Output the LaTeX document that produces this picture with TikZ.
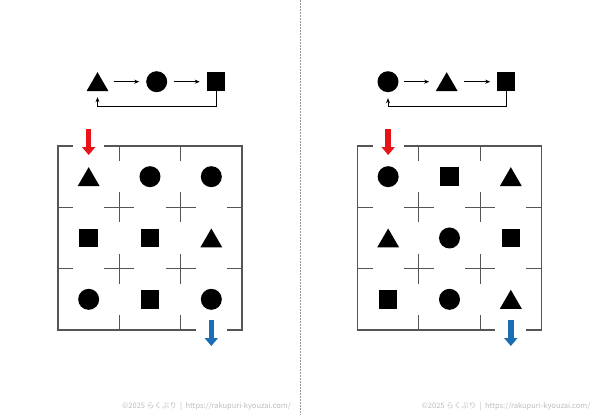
\documentclass[tikz,border=0pt]{standalone}
\usepackage{fontspec}
\newfontfamily\jpfont{Noto Sans CJK JP}
\usetikzlibrary{arrows.meta}
\definecolor{wallgray}{RGB}{85,85,85}
\definecolor{arrred}{RGB}{230,20,25}
\definecolor{arrblue}{RGB}{25,110,180}
\definecolor{footgray}{RGB}{190,190,190}
\definecolor{sepgray}{RGB}{150,150,150}
\begin{document}
\begin{tikzpicture}[x=1pt,y=-1pt,
  wall/.style={draw=wallgray,line width=1.1pt},
  tri/.style={minimum width=22pt,minimum height=19pt,inner sep=0pt,outer sep=0pt,
    path picture={\fill[black] (path picture bounding box.south west) -- (path picture bounding box.south east) -- (path picture bounding box.north) -- cycle;}},
  circ/.style={circle,fill=black,minimum size=21pt,inner sep=0pt,outer sep=0pt},
  sq/.style={rectangle,fill=black,minimum size=18.5pt,inner sep=0pt,outer sep=0pt},
  flow/.style={draw=black,line width=0.9pt,-{Stealth[length=5pt,width=4pt]}},
  redarrow/.style={draw=arrred,line width=5.5pt,-{Triangle[length=8pt,width=13pt]}},
  bluearrow/.style={draw=arrblue,line width=5.5pt,-{Triangle[length=8pt,width=13pt]}},
  footer/.style={text=footgray,font=\jpfont\fontsize{7.5}{9}\selectfont,inner sep=0pt}
]
\fill[white] (0,0) rectangle (600,415);
\useasboundingbox (0,0) rectangle (600,415);
\draw[sepgray,line width=0.8pt,dash pattern=on 1.5pt off 1.5pt] (300,0) -- (300,415);

\def\c{61.33}
\def\s{15}

% ---------- left legend ----------
\node[tri]  (la) at (97.5,81.7) {};
\node[circ] (lb) at (156.7,81.7) {};
\node[sq]   (lc) at (216,81.7) {};
\draw[flow,shorten <=5pt,shorten >=7pt] (la.east) -- (lb.west);
\draw[flow,shorten <=6.5pt,shorten >=7pt] (lb.east) -- (lc.west);
\draw[flow] (lc.south) -- (lc.south |- 0,106.5) -| ([yshift=-6pt]la.south);

% ---------- right legend ----------
\node[circ] (ra) at (388,81.7) {};
\node[tri]  (rb) at (446.7,81.7) {};
\node[sq]   (rc) at (506,81.7) {};
\draw[flow,shorten <=5pt,shorten >=6.5pt] (ra.east) -- (rb.west);
\draw[flow,shorten <=6.5pt,shorten >=6.5pt] (rb.east) -- (rc.west);
\draw[flow] (rc.south) -- (rc.south |- 0,106.5) -| ([yshift=-6pt]ra.south);

% ---------- left maze ----------
\begin{scope}[shift={(58,146)}]
  \draw[wall] (2*\c+\s,3*\c) -- (0,3*\c) -- (0,0) -- (\s,0);
  \draw[wall] (\c-\s,0) -- (3*\c,0) -- (3*\c,3*\c) -- (3*\c-\s,3*\c);
  \foreach \i in {1,2} {
    \draw[wall] (\i*\c,0) -- ++(0,\s);
    \draw[wall] (\i*\c,3*\c) -- ++(0,-\s);
    \draw[wall] (0,\i*\c) -- ++(\s,0);
    \draw[wall] (3*\c,\i*\c) -- ++(-\s,0);
    \foreach \j in {1,2}
      \draw[wall] (\i*\c-\s,\j*\c) -- ++(2*\s,0) (\i*\c,\j*\c-\s) -- ++(0,2*\s);
  }
  \node[tri]  (L00) at (0.5*\c,0.5*\c) {};
  \node[circ] (L01) at (1.5*\c,0.5*\c) {};
  \node[circ] (L02) at (2.5*\c,0.5*\c) {};
  \node[sq]   (L10) at (0.5*\c,1.5*\c) {};
  \node[sq]   (L11) at (1.5*\c,1.5*\c) {};
  \node[tri]  (L12) at (2.5*\c,1.5*\c) {};
  \node[circ] (L20) at (0.5*\c,2.5*\c) {};
  \node[sq]   (L21) at (1.5*\c,2.5*\c) {};
  \node[circ] (L22) at (2.5*\c,2.5*\c) {};
  \coordinate (lrs) at (0.5*\c,-17);
  \coordinate (lre) at (0.5*\c,9);
  \coordinate (lbs) at (2.5*\c,174);
  \coordinate (lbe) at (2.5*\c,200);
  \draw[redarrow] (lrs) -- (lre);
  \draw[bluearrow] (lbs) -- (lbe);
\end{scope}

% ---------- right maze ----------
\begin{scope}[shift={(357.5,146)}]
  \draw[wall] (2*\c+\s,3*\c) -- (0,3*\c) -- (0,0) -- (\s,0);
  \draw[wall] (\c-\s,0) -- (3*\c,0) -- (3*\c,3*\c) -- (3*\c-\s,3*\c);
  \foreach \i in {1,2} {
    \draw[wall] (\i*\c,0) -- ++(0,\s);
    \draw[wall] (\i*\c,3*\c) -- ++(0,-\s);
    \draw[wall] (0,\i*\c) -- ++(\s,0);
    \draw[wall] (3*\c,\i*\c) -- ++(-\s,0);
    \foreach \j in {1,2}
      \draw[wall] (\i*\c-\s,\j*\c) -- ++(2*\s,0) (\i*\c,\j*\c-\s) -- ++(0,2*\s);
  }
  \node[circ] (R00) at (0.5*\c,0.5*\c) {};
  \node[sq]   (R01) at (1.5*\c,0.5*\c) {};
  \node[tri]  (R02) at (2.5*\c,0.5*\c) {};
  \node[tri]  (R10) at (0.5*\c,1.5*\c) {};
  \node[circ] (R11) at (1.5*\c,1.5*\c) {};
  \node[sq]   (R12) at (2.5*\c,1.5*\c) {};
  \node[sq]   (R20) at (0.5*\c,2.5*\c) {};
  \node[circ] (R21) at (1.5*\c,2.5*\c) {};
  \node[tri]  (R22) at (2.5*\c,2.5*\c) {};
  \coordinate (rrs) at (0.5*\c,-17);
  \coordinate (rre) at (0.5*\c,9);
  \coordinate (rbs) at (2.5*\c,174);
  \coordinate (rbe) at (2.5*\c,200);
  \draw[redarrow] (rrs) -- (rre);
  \draw[bluearrow] (rbs) -- (rbe);
\end{scope}

% ---------- footers ----------
\node[footer] (fl) at (206.5,406) {©2025 らくぷり\ \ |\ \ https://rakupuri-kyouzai.com/};
\node[footer] (fr) at (506,406) {©2025 らくぷり\ \ |\ \ https://rakupuri-kyouzai.com/};
\end{tikzpicture}
\end{document}
